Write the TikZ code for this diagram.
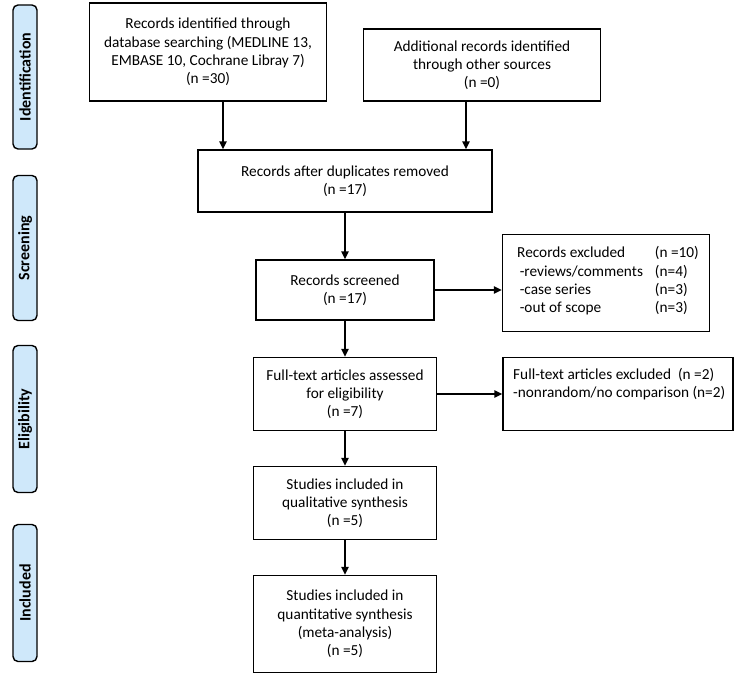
\documentclass[tikz,border=0pt]{standalone}
\usepackage{fontspec}
\setmainfont{Carlito}
\usetikzlibrary{arrows.meta}
\definecolor{phase}{RGB}{207,232,250}
\begin{document}
\begin{tikzpicture}[x=1pt,y=-1pt,
  box/.style={draw=black,line width=1.4pt,fill=white,align=center,inner sep=2pt,
    font=\fontsize{15.3}{18.2}\selectfont},
  phasebox/.style={draw=black,line width=1.4pt,fill=phase,rounded corners=5pt,
    rotate=90,minimum height=24pt,inner sep=0pt,font=\fontsize{16}{18}\selectfont\bfseries},
  arr/.style={line width=1.4pt,-{Triangle[length=8pt,width=7.5pt]}}]
\useasboundingbox (0,0) rectangle (738,677);
% phase labels
\node[phasebox,minimum width=144pt] (pid) at (25,77) {Identification};
\node[phasebox,minimum width=145pt] (psc) at (25,248) {Screening};
\node[phasebox,minimum width=147pt] (pel) at (25,419) {Eligibility};
\node[phasebox,minimum width=137pt] (pin) at (25,593) {Included};
% boxes
\node[box,minimum width=237pt,minimum height=98pt] (b1) at (208,52)
  {Records identified through\\database searching (MEDLINE 13,\\EMBASE 10, Cochrane Libray 7)\\(n =30)};
\node[box,minimum width=237pt,minimum height=72pt] (b2) at (482,65)
  {Additional records identified\\through other sources\\(n =0)};
\node[box,minimum width=294pt,minimum height=62pt] (b3) at (345,181)
  {Records after duplicates removed\\(n =17)};
\node[box,minimum width=178pt,minimum height=60pt] (scr) at (345,290)
  {Records screened\\(n =17)};
\node[box,minimum width=207pt,minimum height=97pt] (ex1) at (606,283) {};
\node[anchor=north west,inner sep=0pt,font=\fontsize{15.3}{18.2}\selectfont] (ex1t) at (517,245)
  {\begin{tabular}{@{}l@{\hspace{12pt}}l@{}}Records excluded & (n =10)\\
   \,-reviews/comments & (n=4)\\ \,-case series & (n=3)\\ \,-out of scope & (n=3)\end{tabular}};
\node[box,minimum width=183pt,minimum height=73pt] (ft) at (345,394)
  {Full-text articles assessed\\for eligibility\\(n =7)};
\node[box,minimum width=230pt,minimum height=73pt] (ex2) at (618,394) {};
\node[anchor=north west,inner sep=0pt,align=left,font=\fontsize{15.3}{18.2}\selectfont] (ex2t) at (513,368)
  {Full-text articles excluded\ \ (n =2)\\-nonrandom/no comparison (n=2)};
\node[box,minimum width=183pt,minimum height=73pt] (ql) at (345,503)
  {Studies included in\\qualitative synthesis\\(n =5)};
\node[box,minimum width=183pt,minimum height=97pt] (qn) at (345,624)
  {Studies included in\\quantitative synthesis\\(meta-analysis)\\(n =5)};
% connectors
\coordinate (a1) at (223,0);
\coordinate (a2) at (466,0);
\draw[arr] (b1.south -| a1) -- (b3.north -| a1);
\draw[arr] (b2.south -| a2) -- (b3.north -| a2);
\draw[arr] (b3.south) -- (scr.north);
\draw[arr] (scr.east) -- (scr.east -| ex1.west);
\draw[arr] (scr.south) -- (ft.north);
\draw[arr] (ft.east) -- (ft.east -| ex2.west);
\draw[arr] (ft.south) -- (ql.north);
\draw[arr] (ql.south) -- (qn.north);
\end{tikzpicture}
\end{document}
